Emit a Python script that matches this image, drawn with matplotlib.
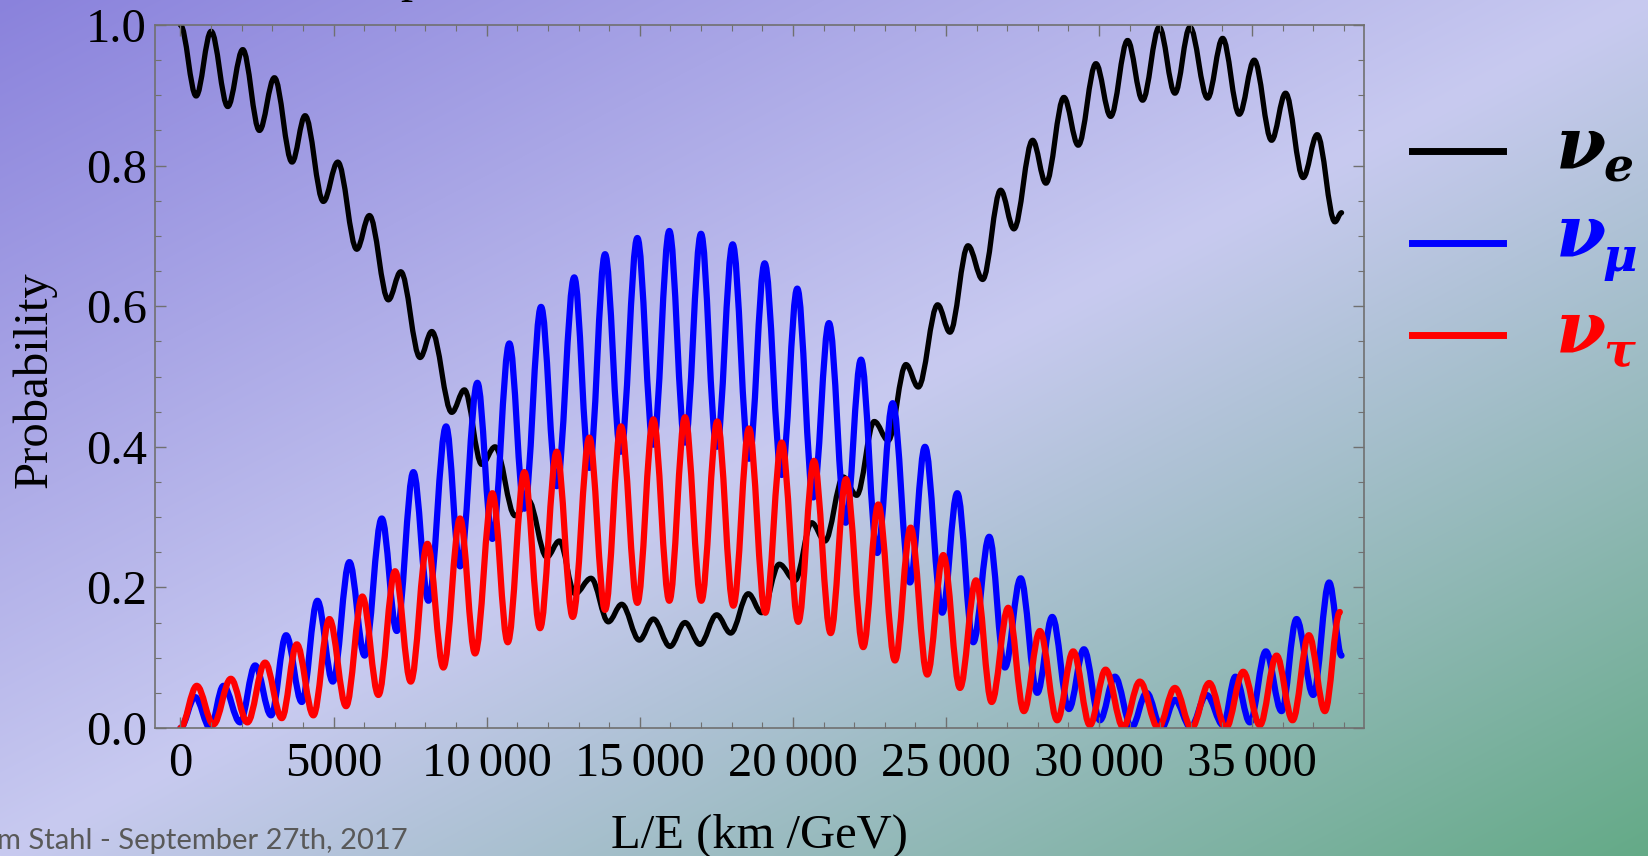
import numpy as np
import matplotlib
matplotlib.use('Agg')
import matplotlib.pyplot as plt
from matplotlib.path import Path
from matplotlib.patches import PathPatch
from matplotlib.ticker import MultipleLocator, FixedLocator

W, H = 1648, 856

# ===== data: extrema (L/E in km/GeV, probability) =====
e_x = [0, 513, 1002, 1547, 2036, 2580, 3069, 3646, 4071, 4669, 5138, 5759, 6171, 6791,
       7195, 7826, 8208, 8861, 9273, 9840, 10274, 10927, 11361, 11962, 12373, 12886,
       13409, 13973, 14411, 14986, 15443, 15988, 16477, 16967, 17512, 17969, 18544,
       18982, 19556, 20069, 20614, 21047, 21646, 22083, 22658, 23114, 23693, 24095,
       24728, 25129, 25720, 26197, 26784, 27218, 27829, 28263, 28851, 29318, 29896,
       30376, 30930, 31420, 31962, 32475, 32965, 33542, 34033, 34576, 35065, 35632,
       36089, 36664, 37121, 37700, 37917]
e_p = [1.000, 0.899, 0.991, 0.884, 0.965, 0.850, 0.925, 0.805, 0.871, 0.749, 0.805, 0.681,
       0.729, 0.609, 0.649, 0.527, 0.564, 0.449, 0.481, 0.375, 0.400, 0.302, 0.324, 0.243,
       0.266, 0.191, 0.213, 0.151, 0.176, 0.125, 0.155, 0.116, 0.150, 0.119, 0.161, 0.135,
       0.191, 0.164, 0.233, 0.210, 0.292, 0.266, 0.357, 0.331, 0.436, 0.409, 0.517, 0.485,
       0.602, 0.563, 0.686, 0.638, 0.765, 0.710, 0.836, 0.775, 0.897, 0.829, 0.945, 0.870,
       0.978, 0.893, 0.997, 0.903, 0.997, 0.896, 0.981, 0.873, 0.950, 0.836, 0.903, 0.783,
       0.844, 0.720, 0.733]

mu_x = [0, 480, 970, 1405, 1949, 2439, 2961, 3451, 3963, 4473, 4976, 5518, 6014, 6575,
        7065, 7608, 8098, 8675, 9132, 9697, 10187, 10741, 11231, 11776, 12289, 12860,
        13353, 13866, 14378, 14921, 15443, 15965, 16477, 17000, 17512, 18034, 18567,
        19078, 19635, 20143, 20666, 21178, 21724, 22224, 22756, 23258, 23823, 24313,
        24878, 25367, 25891, 26412, 26924, 27437, 27979, 28469, 29014, 29504, 30027,
        30516, 31061, 31551, 32041, 32475, 32987, 33509, 34050, 34450, 34923, 35445,
        35958, 36447, 36991, 37512, 37917]
mu_p = [0.0, 0.044, 0.0, 0.060, 0.008, 0.089, 0.018, 0.132, 0.037, 0.181, 0.066, 0.236,
        0.103, 0.298, 0.138, 0.364, 0.181, 0.429, 0.230, 0.491, 0.269, 0.547, 0.312, 0.599,
        0.344, 0.641, 0.370, 0.674, 0.393, 0.697, 0.403, 0.707, 0.406, 0.703, 0.400, 0.688,
        0.383, 0.661, 0.360, 0.625, 0.328, 0.576, 0.292, 0.524, 0.249, 0.462, 0.207, 0.400,
        0.164, 0.334, 0.122, 0.272, 0.086, 0.213, 0.050, 0.158, 0.027, 0.112, 0.011, 0.073,
        0.001, 0.050, 0.0, 0.040, 0.001, 0.047, 0.004, 0.073, 0.008, 0.109, 0.024, 0.155,
        0.047, 0.207, 0.103]

tau_x = [0, 535, 1077, 1646, 2187, 2765, 3310, 3800, 4342, 4865, 5410, 5940, 6465, 7010,
         7522, 8065, 8587, 9132, 9621, 10187, 10689, 11231, 11743, 12289, 12811, 13353,
         13866, 14388, 14921, 15443, 15965, 16477, 17010, 17532, 18056, 18567, 19100,
         19635, 20177, 20689, 21234, 21734, 22298, 22789, 23333, 23846, 24388, 24911,
         25456, 25979, 26491, 27032, 27544, 28066, 28632, 29154, 29699, 30212, 30786,
         31330, 31930, 32475, 33019, 33596, 34142, 34705, 35249, 35795, 36317, 36850,
         37373, 37861]
tau_p = [0.0, 0.060, 0.005, 0.070, 0.008, 0.093, 0.014, 0.119, 0.018, 0.155, 0.031, 0.187,
         0.047, 0.223, 0.066, 0.262, 0.086, 0.298, 0.106, 0.334, 0.122, 0.364, 0.142, 0.393,
         0.158, 0.413, 0.168, 0.429, 0.178, 0.439, 0.181, 0.442, 0.181, 0.436, 0.174, 0.426,
         0.164, 0.406, 0.151, 0.380, 0.135, 0.354, 0.115, 0.318, 0.096, 0.285, 0.076, 0.246,
         0.057, 0.210, 0.037, 0.171, 0.024, 0.138, 0.011, 0.109, 0.004, 0.083, 0.001, 0.066,
         0.0, 0.057, 0.0, 0.064, 0.0, 0.080, 0.004, 0.103, 0.011, 0.132, 0.024, 0.165]

x_ticks = [0, 5000, 10000, 15000, 20000, 25000, 30000, 35000]
x_labels = ['0', '5000', '10\u2006000', '15\u2006000', '20\u2006000', '25\u2006000',
            '30\u2006000', '35\u2006000']
y_ticks = [0.0, 0.2, 0.4, 0.6, 0.8, 1.0]
y_labels = ['0.0', '0.2', '0.4', '0.6', '0.8', '1.0']

SERIF = ['Liberation Serif', 'DejaVu Serif']


def smooth_path(xs, ys, k=0.36):
    # cubic segments between extrema, flat tangent at each extremum
    verts = [(xs[0], ys[0])]
    codes = [Path.MOVETO]
    for i in range(len(xs) - 1):
        dx = xs[i + 1] - xs[i]
        verts += [(xs[i] + k * dx, ys[i]), (xs[i + 1] - k * dx, ys[i + 1]), (xs[i + 1], ys[i + 1])]
        codes += [Path.CURVE4] * 3
    return Path(verts, codes)


fig = plt.figure(figsize=(W / 100, H / 100), dpi=100)

# ===== slide background gradient =====
gx, gy = np.meshgrid(np.linspace(0, 1, W), np.linspace(0, 1, H))
t = (gx + gy) / 2
c0 = np.array([138, 130, 220]) / 255
c1 = np.array([200, 202, 240]) / 255
c2 = np.array([100, 170, 135]) / 255
s = np.clip(t / 0.5, 0, 1)[..., None]
u = np.clip((t - 0.5) / 0.5, 0, 1)[..., None]
bg = np.where(t[..., None] < 0.5, c0 + (c1 - c0) * s, c1 + (c2 - c1) * u)
fig.figimage(bg, 0, 0, origin='upper', zorder=-10)

ax = fig.add_axes([155 / W, 1 - 728 / H, (1364 - 155) / W, (728 - 25) / H])
ax.patch.set_alpha(0)

for xs, ys, col, lw in [(e_x, e_p, 'black', 3.8), (mu_x, mu_p, '#0000ff', 4.5),
                        (tau_x, tau_p, '#ff0000', 4.5)]:
    ax.add_patch(PathPatch(smooth_path(xs, ys), fill=False, edgecolor=col, lw=lw,
                           capstyle='round', joinstyle='round'))

ax.set_xlim(-830, 38650)
ax.set_ylim(0, 1.0)

ax.xaxis.set_major_locator(FixedLocator(x_ticks))
ax.set_xticklabels(x_labels, fontfamily=SERIF, fontsize=35)
ax.xaxis.set_minor_locator(MultipleLocator(1000))
ax.yaxis.set_major_locator(FixedLocator(y_ticks))
ax.set_yticklabels(y_labels, fontfamily=SERIF, fontsize=35)
ax.yaxis.set_minor_locator(MultipleLocator(0.05))
ax.tick_params(which='both', direction='in', top=True, right=True, color='#707070')
ax.tick_params(which='major', length=8, width=1.0)
ax.tick_params(which='minor', length=4.5, width=0.8)
ax.tick_params(axis='x', pad=10)
ax.tick_params(axis='y', pad=6)
for sp in ax.spines.values():
    sp.set_color('#707070')
    sp.set_linewidth(1.2)

fig.text(34 / W, 1 - 380 / H, 'Probability', rotation=90, ha='center', va='center',
         fontfamily=SERIF, fontsize=35)
fig.text(759 / W, 1 - 836 / H, 'L/E (km /GeV)', ha='center', va='center',
         fontfamily=SERIF, fontsize=35)

# cut-off title descender and footer, both clipped by the slide edge as in the source
fig.text(412 / W, 1 + 8 / H, 'p', ha='center', va='baseline', fontfamily=SERIF, fontsize=35)
fig.text(-3 / W, 1 - 841 / H, 'm Stahl - September 27th, 2017', ha='left', va='center',
         fontfamily=['Lato', 'DejaVu Sans'], fontsize=21, color='#595959')

# ===== legend =====
leg = [('black', 151, 'e', 168), ('#0000ff', 243, '\u03bc', 257), ('#ff0000', 335, '\u03c4', 352)]
for col, ly, sub, base in leg:
    fig.add_artist(plt.Line2D([1412 / W, 1503 / W], [1 - ly / H, 1 - ly / H], color=col, lw=5))
    fig.text(1556 / W, 1 - base / H, '\u03bd', color=col, fontfamily='DejaVu Serif',
             fontweight='bold', fontstyle='italic', fontsize=52, va='baseline', ha='left')
    fig.text(1603 / W, 1 - (base + 14) / H, sub, color=col, fontfamily='DejaVu Serif',
             fontweight='bold', fontstyle='italic', fontsize=34, va='baseline', ha='left')

fig.savefig('out.png', dpi=100)
